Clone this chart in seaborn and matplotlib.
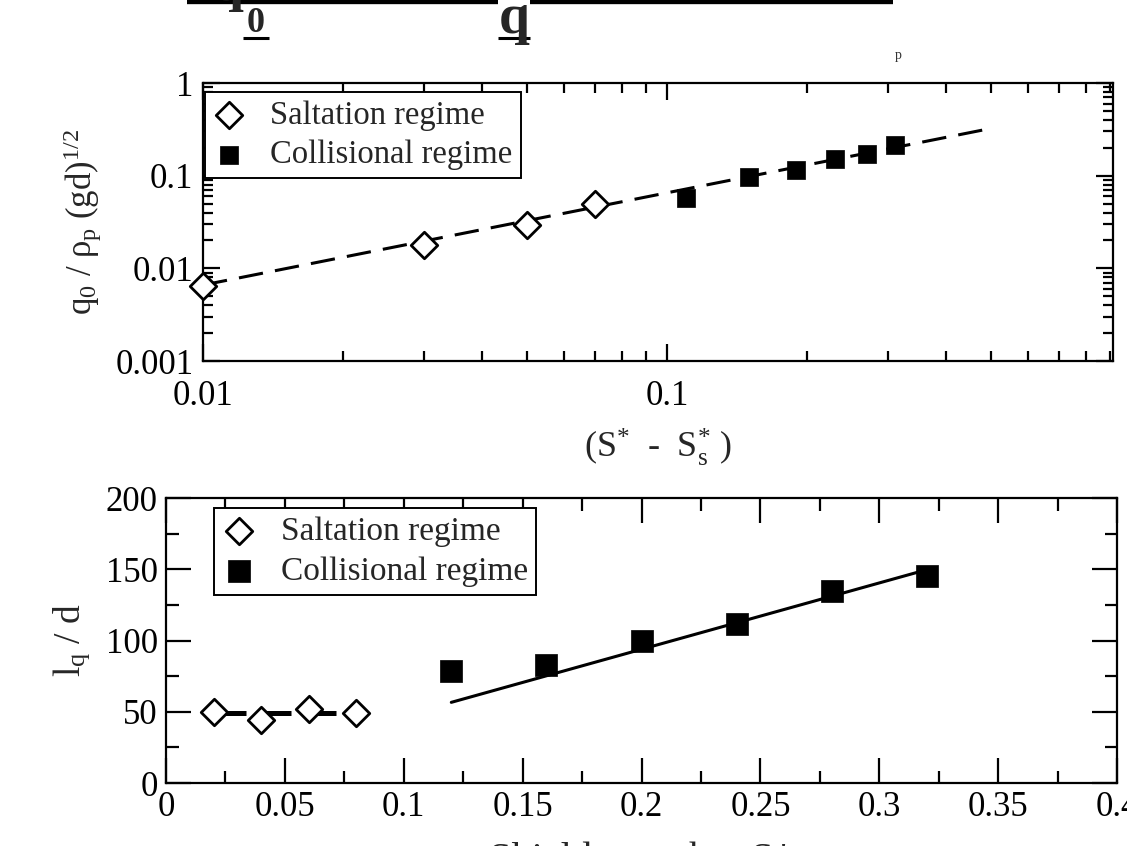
import numpy as np
import pandas as pd
import matplotlib
matplotlib.use("Agg")
import matplotlib.pyplot as plt
from matplotlib.lines import Line2D
from matplotlib.ticker import FixedLocator, LogLocator, FuncFormatter, MultipleLocator, NullFormatter
import seaborn as sns

# ---------------- data ----------------
# top panel: q0 / rho_p (gd)^1/2 versus (S* - S*_s)
top_salt_x = [0.01, 0.03, 0.05, 0.07]
top_salt_y = [0.0064, 0.018, 0.029, 0.049]
top_coll_x = [0.11, 0.15, 0.19, 0.23, 0.27, 0.31]
top_coll_y = [0.058, 0.096, 0.116, 0.153, 0.170, 0.215]
top_fit_x = [0.01, 0.5]
top_fit_y = [0.0066, 0.324]

# bottom panel: l_q / d versus Shields number
bot_salt_x = [0.02, 0.04, 0.06, 0.08]
bot_salt_y = [49.5, 44.4, 51.9, 49.1]
bot_coll_x = [0.12, 0.16, 0.20, 0.24, 0.28, 0.32]
bot_coll_y = [78.3, 83.0, 99.4, 111.8, 134.9, 145.0]
bot_salt_fit_x = [0.021, 0.072]
bot_salt_fit_y = [49.0, 49.0]
bot_coll_fit_x = [0.12, 0.32]
bot_coll_fit_y = [56.6, 149.7]

legend_labels = ["Saltation regime", "Collisional regime"]
top_xticks = [0.01, 0.1]
top_yticks = [0.001, 0.01, 0.1, 1]
bot_xticks = [0, 0.05, 0.1, 0.15, 0.2, 0.25, 0.3, 0.35, 0.4]
bot_yticks = [0, 50, 100, 150, 200]

# ---------------- style ----------------
sns.set_theme(style="ticks")
plt.rcParams['font.family'] = ['Liberation Serif', 'DejaVu Serif']
plt.rcParams['mathtext.fontset'] = 'custom'
plt.rcParams['mathtext.rm'] = 'Liberation Serif'
plt.rcParams['mathtext.it'] = 'Liberation Serif:italic'
plt.rcParams['mathtext.bf'] = 'Liberation Serif:bold'

W, H = 1127, 846
fig = plt.figure(figsize=(W / 100, H / 100), dpi=100)

def fr(x0, y0, x1, y1):
    return [x0 / W, 1 - y1 / H, (x1 - x0) / W, (y1 - y0) / H]

ax1 = fig.add_axes(fr(203, 83, 1113, 361))
ax2 = fig.add_axes(fr(166, 498, 1117, 783))

TICK_FS = 25
LEG_FS = 23.5
LAB_FS = 25

def style_axes(ax, xpad, ypad, maj_len, min_len):
    for s in ax.spines.values():
        s.set_linewidth(1.6)
        s.set_color('black')
        s.set_visible(True)
    ax.tick_params(which='both', direction='in', top=True, right=True,
                   colors='black', width=1.6, labelsize=TICK_FS)
    ax.tick_params(which='major', length=maj_len)
    ax.tick_params(which='minor', length=min_len)
    ax.tick_params(axis='x', which='major', pad=xpad)
    ax.tick_params(axis='y', which='major', pad=ypad)
    ax.set_facecolor('white')
    ax.grid(False)

# ---------------- top panel ----------------
sns.lineplot(x=top_fit_x, y=top_fit_y, ax=ax1, color='black', lw=2.2,
             dashes=False, zorder=2, legend=False).lines[-1].set_dashes((8, 4))
sns.scatterplot(x=top_salt_x, y=top_salt_y, ax=ax1, marker='D', s=13.5**2,
                facecolor='white', edgecolor='black', linewidth=2.0,
                label=legend_labels[0], zorder=3, clip_on=False)
sns.scatterplot(x=top_coll_x, y=top_coll_y, ax=ax1, marker='s', s=13**2,
                color='black', edgecolor='black', linewidth=0.5,
                label=legend_labels[1], zorder=3)
ax1.set_xscale('log')
ax1.set_yscale('log')
ax1.set_xlim(0.01, 0.915)
ax1.set_ylim(0.001, 1)
ax1.xaxis.set_major_locator(FixedLocator(top_xticks))
ax1.yaxis.set_major_locator(FixedLocator(top_yticks))
ax1.xaxis.set_minor_locator(LogLocator(base=10, subs=np.arange(2, 10)))
ax1.yaxis.set_minor_locator(LogLocator(base=10, subs=np.arange(2, 10)))
fmt = FuncFormatter(lambda v, p: '%g' % v)
ax1.xaxis.set_major_formatter(fmt)
ax1.yaxis.set_major_formatter(fmt)
ax1.xaxis.set_minor_formatter(NullFormatter())
ax1.yaxis.set_minor_formatter(NullFormatter())
style_axes(ax1, xpad=14, ypad=7, maj_len=12, min_len=7)
ax1.set_xlabel(r'$\mathregular{(S^{*}\ \ \text{-}\ \ S_{s}^{*}\ )}$', fontsize=LAB_FS + 1, labelpad=9)
ax1.set_ylabel(r'$\mathregular{q_0\ /\ \rho_p\ (gd)^{1/2}}$', fontsize=LAB_FS, labelpad=8)

# ---------------- bottom panel ----------------
sns.lineplot(x=bot_salt_fit_x, y=bot_salt_fit_y, ax=ax2, color='black', lw=3.6,
             zorder=2, legend=False).lines[-1].set_dashes((6, 3))
sns.lineplot(x=bot_coll_fit_x, y=bot_coll_fit_y, ax=ax2, color='black', lw=2.2,
             zorder=2, legend=False)
sns.scatterplot(x=bot_salt_x, y=bot_salt_y, ax=ax2, marker='D', s=13.5**2,
                facecolor='white', edgecolor='black', linewidth=2.0,
                label=legend_labels[0], zorder=3)
sns.scatterplot(x=bot_coll_x, y=bot_coll_y, ax=ax2, marker='s', s=16**2,
                color='black', edgecolor='black', linewidth=0.5,
                label=legend_labels[1], zorder=3)
ax2.set_xlim(0, 0.4)
ax2.set_ylim(0, 200)
ax2.xaxis.set_major_locator(FixedLocator(bot_xticks))
ax2.yaxis.set_major_locator(FixedLocator(bot_yticks))
ax2.xaxis.set_minor_locator(MultipleLocator(0.025))
ax2.yaxis.set_minor_locator(MultipleLocator(25))
ax2.xaxis.set_major_formatter(fmt)
ax2.yaxis.set_major_formatter(fmt)
style_axes(ax2, xpad=6, ypad=6, maj_len=18, min_len=9)
ax2.set_xlabel('Shields number S*', fontsize=29, labelpad=13)
ax2.set_ylabel(r'$\mathregular{l_q\ /\ d}$', fontsize=LAB_FS + 2, labelpad=10)

for ax, anchor, fs in ((ax1, (0.002, 0.968), LEG_FS), (ax2, (0.0505, 0.965), LEG_FS + 0.5)):
    h, l = ax.get_legend_handles_labels()
    leg = ax.legend(h, l, loc='upper left', bbox_to_anchor=anchor, borderaxespad=0,
                    fontsize=fs, frameon=True, fancybox=False, framealpha=1,
                    edgecolor='black', handlelength=1.0, handletextpad=0.75,
                    labelspacing=0.28, borderpad=0.25)
    leg.get_frame().set_linewidth(1.4)

# ---------------- cropped page fragments at the top ----------------
def bar(x0, x1, y, lw):
    fig.add_artist(Line2D([x0 / W, x1 / W], [1 - y / H, 1 - y / H],
                          transform=fig.transFigure, color='black', lw=lw,
                          solid_capstyle='butt'))

bar(187, 498, 0, 6)
bar(530, 893, 0, 6)
fig.text(228 / W, 1 - 0 / H, 'q', fontsize=40, fontweight='bold',
         ha='center', va='baseline', family='Liberation Serif')
fig.text(256 / W, 1 - 32 / H, '0', fontsize=26, fontweight='bold',
         ha='center', va='baseline', family='Liberation Serif')
bar(243, 269, 38, 2.2)
fig.text(514 / W, 1 - 33 / H, 'q', fontsize=40, fontweight='bold',
         ha='center', va='baseline', family='Liberation Serif')
bar(498, 530, 38, 2.2)
fig.text(898 / W, 1 - 62 / H, 'p', fontsize=10, color='#333333',
         ha='center', va='bottom', family='Liberation Serif')

fig.savefig('out.png', dpi=100)
